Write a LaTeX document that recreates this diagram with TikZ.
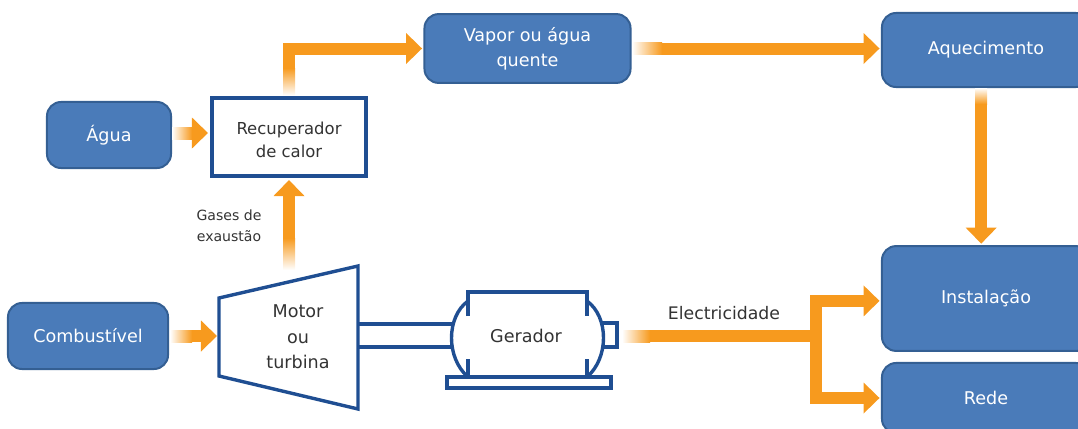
\documentclass[tikz,border=0pt]{standalone}
\usepackage{fontspec}
\setmainfont{DejaVu Sans}
\usetikzlibrary{arrows.meta}
\definecolor{boxBlue}{HTML}{4A7BB9}
\definecolor{boxEdge}{HTML}{345F93}
\definecolor{lineBlue}{HTML}{1F4E92}
\definecolor{flowOrange}{HTML}{F79A1E}
\definecolor{labelGrey}{HTML}{333333}
\tikzstyle{boxes} = [rectangle, rounded corners=0.35cm, inner sep=0pt, outer sep=0.06cm, text centered, fill=boxBlue, draw=boxEdge, line width=0.05cm, text=white, font=\fontsize{12.5}{17.7}\selectfont]
\tikzstyle{plainbox} = [rectangle, inner sep=0pt, outer sep=0.1cm, text centered, draw=lineBlue, line width=0.1cm, text=labelGrey, font=\fontsize{11.7}{17}\selectfont]
\tikzstyle{machine} = [draw=lineBlue, line width=0.085cm, line join=miter]
\tikzstyle{tag} = [text=labelGrey, align=center]
\tikzstyle{arrow} = [draw=flowOrange, line width=0.3cm, -{Triangle[width=0.75cm,length=0.4cm]}]
\tikzstyle{branch} = [draw=flowOrange, line width=0.3cm]
\tikzstyle{fadeRight} = [left color=white, right color=flowOrange]
\tikzstyle{fadeUp} = [bottom color=white, top color=flowOrange]
\tikzstyle{fadeDown} = [top color=white, bottom color=flowOrange]
\begin{document}
\begin{tikzpicture}[x=0.025cm, y=-0.025cm]
    \useasboundingbox (0,0) rectangle (1078,428);
    \clip (0,0) rectangle (1078,428);

    %Main Nodes
    \node (agua) [boxes, minimum width=3.1cm, minimum height=1.65cm] at (109,135) {Água};
    \node (recup) [plainbox, minimum width=3.85cm, minimum height=1.95cm, align=center] at (289,137) {\rule{0pt}{13pt}Recuperador\\de calor};
    \node (vapor) [boxes, minimum width=5.15cm, minimum height=1.72cm, align=center] at (527.5,48.5) {Vapor ou água\\quente};
    \node (aquec) [boxes, minimum width=5.2cm, minimum height=1.85cm] at (986,50) {Aquecimento};
    \node (comb) [boxes, minimum width=4cm, minimum height=1.65cm] at (88,336) {Combustível};
    \node (inst) [boxes, minimum width=5.2cm, minimum height=2.62cm] at (986,298.5) {Instalação};
    \node (rede) [boxes, minimum width=5.2cm, minimum height=1.75cm] at (986,398) {Rede};

    %Machines
    \draw [machine] (219,298) -- (358,266) -- (358,409) -- (219,376) -- cycle;
    \node (motor) [tag, font=\fontsize{12.5}{18}\selectfont] at (298,337) {Motor\\ou\\turbina};
    \draw [machine] (359,324) -- (453,324);
    \draw [machine] (359,347) -- (453,347);
    \draw [machine] (468,377) -- (468,359) (468,377) -- (587,377) -- (587,359);
    \draw [machine] (468,316) -- (468,292) -- (587,292) -- (587,316);
    \draw [machine] (468,301) .. controls (446,317) and (446,358) .. (468,377);
    \draw [machine] (587,301) .. controls (609,317) and (609,358) .. (587,377);
    \draw [machine] (447,377) rectangle (611,388);
    \draw [machine] (603,323) -- (617,323) -- (617,347) -- (603,347);
    \node (gerador) [tag, font=\fontsize{12.5}{14}\selectfont] at (526,336) {Gerador};

    %Labels
    \node (gases) [tag, font=\fontsize{10}{15}\selectfont] at (229,226) {Gases de\\exaustão};
    \node (elec) [tag, font=\fontsize{12.3}{14}\selectfont] at (724,313) {Electricidade};

    %Free ends
    \coordinate (motorUp) at (289,268);
    \coordinate (motorIn) at (217,336);
    \coordinate (geradorOut) at (622,336);
    \coordinate (split) at (816,336);

    %Arrows
    \draw [arrow] ([yshift=0.05cm]agua.east) -- ([yshift=0.05cm]agua.east -| recup.west);
    \draw [arrow] (recup.north) |- (vapor.west);
    \draw [arrow] (vapor) -- (vapor -| aquec.west);
    \draw [arrow] ([xshift=-0.12cm]aquec.south) -- ([xshift=-0.12cm]aquec.south |- inst.north);
    \draw [arrow] (motorUp) -- (recup.south);
    \draw [arrow] (comb) -- (motorIn);
    \draw [branch] (geradorOut) -- (split);
    \draw [arrow] (split) |- ([yshift=-0.06cm]inst.west);
    \draw [arrow] (split) |- (rede.west);

    %Fades
    \fill [fadeRight] (172,127) rectangle (192,139);
    \fill [fadeRight] (170,330) rectangle (192,342);
    \fill [fadeRight] (632,42.5) rectangle (662,54.5);
    \fill [fadeRight] (622,330) rectangle (650,342);
    \fill [fadeUp] (283,95.5) rectangle (295,68);
    \fill [fadeUp] (283,270) rectangle (295,238);
    \fill [fadeDown] (975.2,88) rectangle (987.2,104);
\end{tikzpicture}
\end{document}
